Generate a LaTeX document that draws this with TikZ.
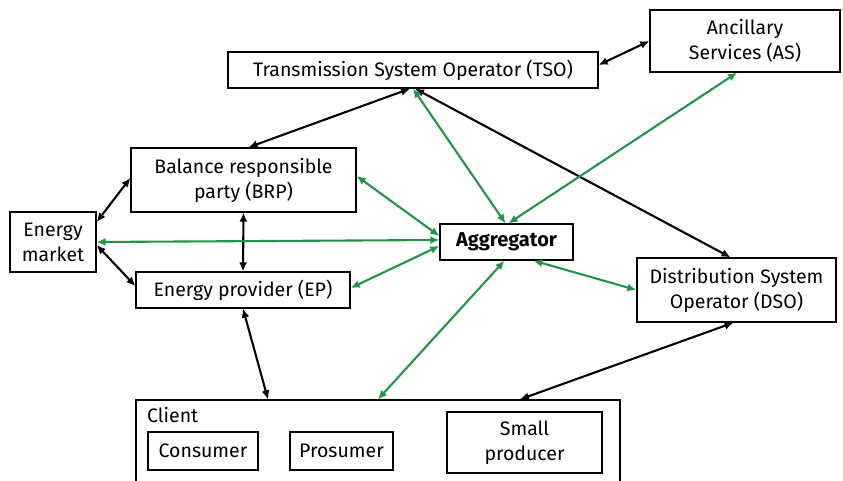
\documentclass[tikz,border=0pt]{standalone}
\usepackage{fontspec}
\setmainfont{Fira Sans}
\usepackage{tikz}
\usetikzlibrary{arrows.meta}
\definecolor{agggreen}{RGB}{34,148,72}

\begin{document}
\begin{tikzpicture}[x=1pt,y=-1pt,
  actor/.style={draw,line width=1.3pt,inner sep=2pt,align=center,font=\fontsize{19.5}{25}\selectfont},
  blackflow/.style={{Latex[length=9pt,width=8pt]}-{Latex[length=9pt,width=8pt]},line width=2.1pt,black},
  greenflow/.style={{Latex[length=9pt,width=8pt]}-{Latex[length=9pt,width=8pt]},line width=2.1pt,agggreen}]
\useasboundingbox[fill=white] (0,0) rectangle (843,481);
% Actors
\node[actor,minimum width=370pt,minimum height=36pt] (tso) at (413,70) {Transmission System Operator (TSO)};
\node[actor,minimum width=190pt,minimum height=62pt] (as) at (745,41) {Ancillary\\Services (AS)};
\node[actor,minimum width=225pt,minimum height=64pt] (brp) at (243.5,180) {Balance responsible\\party (BRP)};
\node[actor,minimum width=86pt,minimum height=60pt] (market) at (53,242) {Energy\\market};
\node[actor,minimum width=133pt,minimum height=36pt,font=\fontsize{20}{24}\selectfont\bfseries] (agg) at (506.5,242) {Aggregator};
\node[actor,minimum width=214pt,minimum height=36pt] (ep) at (243,290) {Energy provider (EP)};
\node[actor,minimum width=199pt,minimum height=64pt] (dso) at (736.5,290) {Distribution System\\Operator (DSO)};
% Client group
\node[actor,minimum width=484pt,minimum height=95pt] (client) at (378,447.5) {};
\node[anchor=north west,inner sep=0pt,font=\fontsize{19.5}{25}\selectfont] (clientlbl) at (147,407) {Client};
\node[actor,minimum width=110pt,minimum height=38pt] (consumer) at (203,451) {Consumer};
\node[actor,minimum width=103pt,minimum height=38pt] (prosumer) at (341.5,451) {Prosumer};
\node[actor,minimum width=155pt,minimum height=61pt] (smallprod) at (524.5,442.5) {Small\\producer};
%
% Black flows
\draw[blackflow] ([yshift=5pt]tso.east) -- (as.west);
\draw[blackflow] ([xshift=-3pt]tso.south) -- ([xshift=5pt]brp.north);
\draw[blackflow] ([xshift=2pt]tso.south) -- ([xshift=-6pt]dso.north);
\draw[blackflow] ([yshift=20pt]market.east) -- ([yshift=2pt]brp.west);
\draw[blackflow] ([yshift=-3pt]market.east) -- ([yshift=4pt]ep.west);
\draw[blackflow] (brp.south) -- (ep.north);
\draw[blackflow] (ep.south) -- ([xshift=-110pt]client.north);
\draw[blackflow] ([xshift=-3pt]dso.south) -- ([xshift=142pt]client.north);
% Green flows (aggregator)
\draw[greenflow] (market.east) -- ([yshift=2pt]agg.west);
\draw[greenflow] ([yshift=4pt]brp.east) -- ([yshift=6pt]agg.west);
\draw[greenflow] ([yshift=2pt]ep.east) -- ([yshift=-4pt]agg.west);
\draw[greenflow] (tso.south) -- ([xshift=-1pt]agg.north);
\draw[greenflow] ([xshift=-8pt]as.south) -- ([xshift=2pt]agg.north);
\draw[greenflow] ([xshift=27pt]agg.south) -- (dso.west);
\draw[greenflow] ([xshift=-2pt]agg.south) -- (client.north);
\end{tikzpicture}
\end{document}
